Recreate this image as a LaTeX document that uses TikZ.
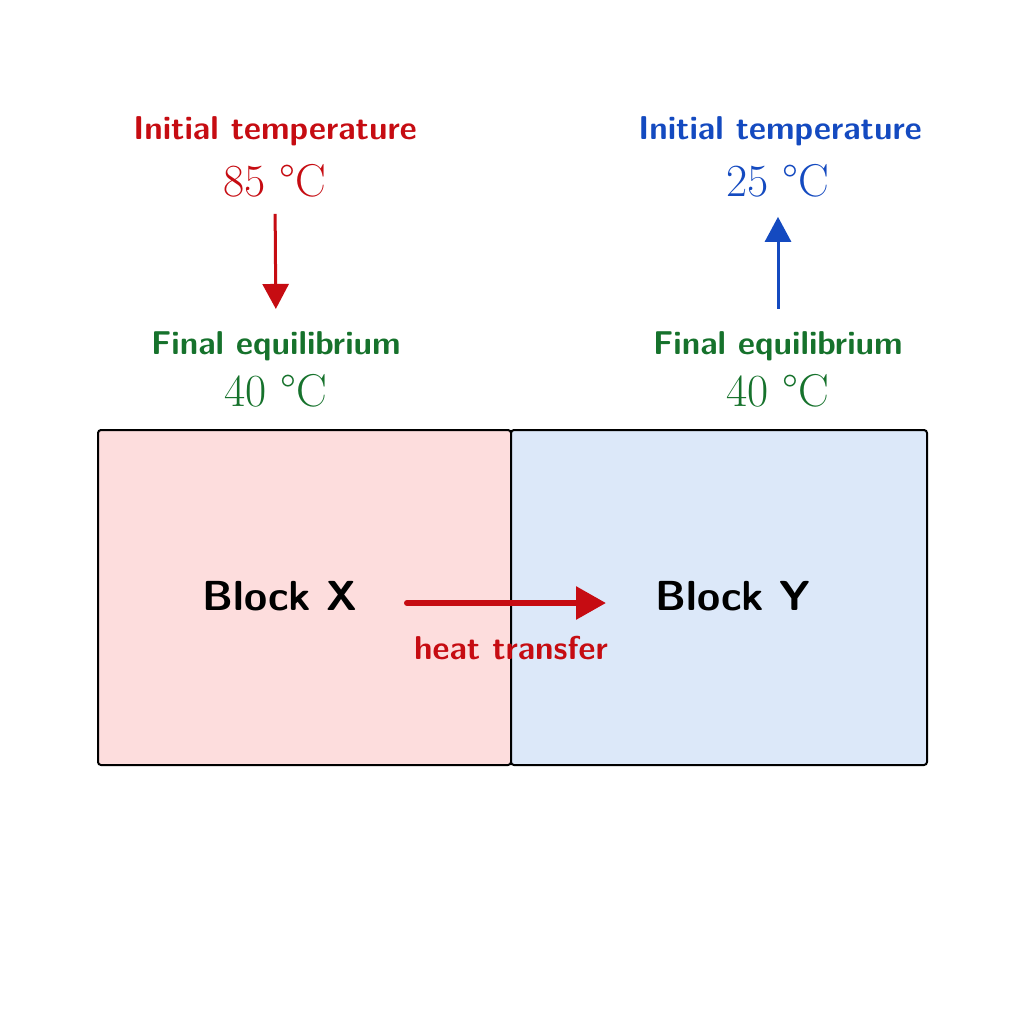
\documentclass[tikz,border=0pt]{standalone}
\usepackage{tikz}
\usetikzlibrary{arrows.meta,positioning}
\definecolor{hotred}{RGB}{198,12,18}
\definecolor{coldblue}{RGB}{20,74,192}
\definecolor{eqgreen}{RGB}{22,114,44}
\definecolor{hotfill}{RGB}{253,221,221}
\definecolor{coldfill}{RGB}{220,232,249}
\tikzstyle{caption}=[font=\sffamily\bfseries\fontsize{16.5}{20}\selectfont, inner sep=0pt]
\tikzstyle{reading}=[font=\fontsize{23}{26}\selectfont, inner sep=0pt]
\tikzstyle{block}=[draw, line width=1pt, rounded corners=1.5pt, minimum height=167.5pt, inner sep=0pt]
\tikzstyle{block label}=[font=\sffamily\bfseries\fontsize{21}{26}\selectfont, inner sep=0pt]
\tikzstyle{change}=[-{Triangle[length=12.5pt, width=13pt]}, line width=1.5pt]
\tikzstyle{heat}=[-{Triangle[length=15pt, width=16pt]}, line width=3pt, line cap=round, hotred]

\begin{document}
\begin{tikzpicture}[x=0.5pt, y=-0.5pt]
        \useasboundingbox[fill=white] (0,0) rectangle (1024,1024);

        % Blocks
        \node[block, fill=hotfill, minimum width=206.5pt] (blockX) at (304.5,597.5) {};
        \node[block, fill=coldfill, minimum width=208pt] (blockY) at (719,597.5) {};
        \node[block label] (nameX) at (280,596) {Block X};
        \node[block label] (nameY) at (733,596) {Block Y};

        % Heat flow
        \coordinate (heatstart) at (407,603);
        \coordinate (heatend) at (606,603);
        \draw[heat] (heatstart) -- (heatend);
        \node[caption, hotred] (heatlabel) at (511,648) {heat transfer};

        % Block X temperatures
        \node[caption, hotred] (initX) at (275,131) {Initial temperature};
        \node[reading, hotred] (tempX) at (275,181) {85 \textdegree C};
        \node[caption, eqgreen] (finalX) at (276,346) {Final equilibrium};
        \node[reading, eqgreen] (eqX) at (276,391) {40 \textdegree C};
        \draw[change, hotred, shorten <=8pt, shorten >=11pt] (tempX.south) -- (finalX.north);

        % Block Y temperatures
        \node[caption, coldblue] (initY) at (780,131) {Initial temperature};
        \node[reading, coldblue] (tempY) at (778,181) {25 \textdegree C};
        \node[caption, eqgreen] (finalY) at (778,346) {Final equilibrium};
        \node[reading, eqgreen] (eqY) at (778,391) {40 \textdegree C};
        \draw[change, coldblue, shorten <=11pt, shorten >=9.5pt] (finalY.north) -- (tempY.south);
\end{tikzpicture}
\end{document}
